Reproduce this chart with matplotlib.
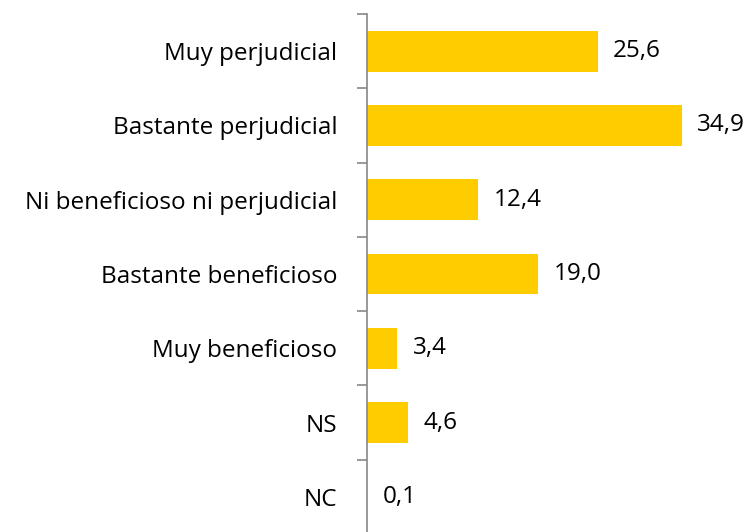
import matplotlib.pyplot as plt
import numpy as np

# datos
categorias = ['Muy perjudicial', 'Bastante perjudicial', 'Ni beneficioso ni perjudicial',
              'Bastante beneficioso', 'Muy beneficioso', 'NS', 'NC']
valores = [25.6, 34.9, 12.4, 19.0, 3.4, 4.6, 0.1]

plt.rcParams['font.family'] = ['Open Sans', 'DejaVu Sans']

fig = plt.figure(figsize=(7.52, 5.32), dpi=100)
ax = fig.add_axes([366.5 / 752, -2 / 532, (752 - 366.5) / 752, 520 / 532])

y = np.arange(len(categorias))
barras = ax.barh(y, valores, height=0.55, color='#FFCC00')
ax.set_ylim(len(categorias) - 0.5, -0.5)
ax.set_xlim(0, 42.7)

# etiquetas de valores
etiquetas = [('%.1f' % v).replace('.', ',') for v in valores]
ax.bar_label(barras, labels=etiquetas, padding=11, fontsize=17.5, color='black')

ax.set_yticks(y)
ax.set_yticklabels(categorias, fontsize=17.5)
ax.set_yticks(np.arange(len(categorias) + 1) - 0.5, minor=True)
ax.tick_params(axis='y', which='major', length=0, pad=21)
ax.tick_params(axis='y', which='minor', length=7, width=1.2, color='#888888')
ax.set_xticks([])

for lado in ['top', 'right', 'bottom']:
    ax.spines[lado].set_visible(False)
ax.spines['left'].set_color('#888888')
ax.spines['left'].set_linewidth(1.2)

plt.savefig('out.png', dpi=100)
